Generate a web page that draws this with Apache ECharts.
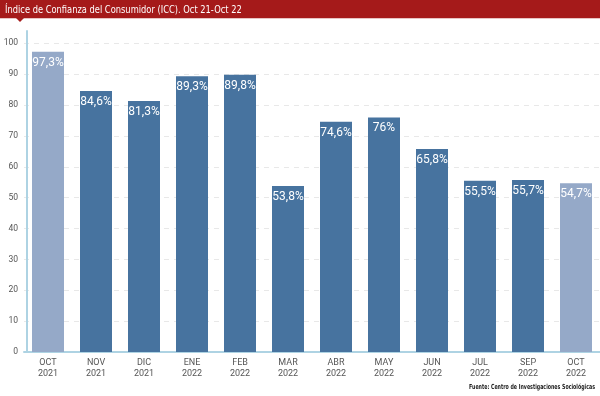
<!DOCTYPE html>
<html>
<head>
<meta charset="utf-8">
<script src="https://cdn.jsdelivr.net/npm/echarts@6/dist/echarts.min.js"></script>
<style>
  html, body { margin: 0; padding: 0; background: #fff; }
  #chart { width: 600px; height: 396px; }
</style>
</head>
<body>
<div id="chart"></div>
<script>
var months = ['OCT', 'NOV', 'DIC', 'ENE', 'FEB', 'MAR', 'ABR', 'MAY', 'JUN', 'JUL', 'SEP', 'OCT'];
var years = ['2021', '2021', '2021', '2022', '2022', '2022', '2022', '2022', '2022', '2022', '2022', '2022'];
var values = [97.3, 84.6, 81.3, 89.3, 89.8, 53.8, 74.6, 76, 65.8, 55.5, 55.7, 54.7];
var highlight = [true, false, false, false, false, false, false, false, false, false, false, true];

var cond = '"DejaVu Sans Condensed", sans-serif';
var dark = '#47739f';
var light = '#95a9c8';

var chart = echarts.init(document.getElementById('chart'), null, { renderer: 'canvas' });

var categories = months.map(function(m, i) { return m + '\n' + years[i]; });

chart.setOption({
  animation: false,
  backgroundColor: '#fff',
  grid: { left: 24, right: 0, top: 31, bottom: 44 },
  graphic: [
    { type: 'rect', shape: { x: 0, y: 0, width: 600, height: 18 }, style: { fill: '#a51a1a' } },
    { type: 'rect', shape: { x: 0, y: 18, width: 600, height: 1 }, style: { fill: '#e8c4c4' } },
    { type: 'polygon', shape: { points: [[16, 18], [24, 18], [20, 22]] }, style: { fill: '#a51a1a' } },
    { type: 'text', x: 5, y: 10, scaleX: 0.84,
      style: { text: 'Índice de Confianza del Consumidor (ICC). Oct 21-Oct 22', fill: '#fff',
               x: 0, y: 0, align: 'left', verticalAlign: 'middle',
               font: '11px ' + cond } },
    { type: 'text', x: 595, y: 387, scaleX: 0.75,
      style: { text: 'Fuente: Centro de Investigaciones Sociológicas', fill: '#222',
               x: 0, y: 0, align: 'right', verticalAlign: 'middle',
               font: 'bold 7px ' + cond } }
  ],
  xAxis: {
    type: 'category',
    data: categories,
    axisLine: { lineStyle: { color: '#aed3e3', width: 2 } },
    axisTick: { show: false },
    axisLabel: { color: '#555', fontSize: 9, lineHeight: 11, margin: 5, interval: 0, fontFamily: 'Roboto' }
  },
  yAxis: {
    type: 'value',
    min: 0,
    max: 104,
    interval: 10,
    offset: -3,
    axisLine: { show: true, lineStyle: { color: '#aed3e3', width: 2 } },
    axisTick: { show: false },
    axisLabel: { color: '#555', fontSize: 8.5, margin: 9, showMaxLabel: false, fontFamily: 'Roboto' },
    splitLine: {
      lineStyle: {
        type: [5, 5],
        color: ['#e8e8e8', '#e8e8e8', '#e8e8e8', '#e8e8e8', '#e8e8e8', '#e8e8e8',
                '#e8e8e8', '#e8e8e8', '#e8e8e8', '#e8e8e8', '#e8e8e8', 'rgba(0,0,0,0)']
      }
    }
  },
  series: [{
    type: 'bar',
    barWidth: 32,
    data: values.map(function(v, i) {
      return { value: v, itemStyle: { color: highlight[i] ? light : dark } };
    }),
    label: {
      show: true,
      position: 'insideTop',
      distance: 5,
      color: '#fff',
      fontSize: 12,
      fontFamily: 'Roboto',
      formatter: function(p) { return String(p.value).replace('.', ',') + '%'; }
    }
  }]
});
</script>
</body>
</html>
